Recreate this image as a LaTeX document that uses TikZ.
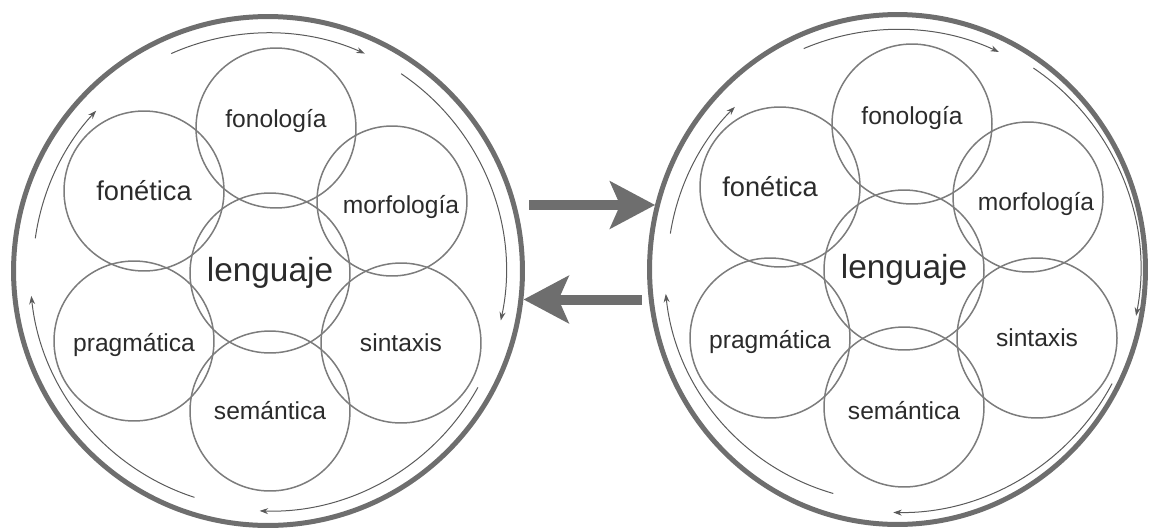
\documentclass[tikz,border=0pt]{standalone}
\usepackage{fontspec}
\setmainfont{Liberation Sans}
\usetikzlibrary{arrows.meta,shapes.geometric}
\definecolor{ringgray}{HTML}{6E6E6E}
\definecolor{petalgray}{HTML}{7C7C7C}
\definecolor{flowgray}{HTML}{5A5A5A}
\definecolor{txtgray}{HTML}{2B2B2B}
\tikzset{
	ring/.style={draw=ringgray,line width=0.1cm,inner sep=0pt},
	petal/.style={circle,draw=petalgray,line width=0.03cm,minimum size=3.2cm,inner sep=0pt},
	word/.style={text=txtgray,font=\fontsize{14}{16}\selectfont},
	bigword/.style={text=txtgray,font=\fontsize{15.5}{18}\selectfont},
	core/.style={text=txtgray,font=\fontsize{19}{22}\selectfont},
	flow/.style={draw=flowgray,line width=0.02cm,-{Stealth[length=0.17cm,width=0.12cm]}},
	bigarrow/.style={draw=ringgray,line width=0.2cm,-{Stealth[length=0.9cm,width=0.94cm,inset=0.2cm]}}
}
\begin{document}
\begin{tikzpicture}[x=0.02cm,y=0.02cm]
		\useasboundingbox (0,0) rectangle (1151,529);
		\node[ring,circle,minimum size=10.18cm] (Lring) at (268,258) {};
		\node[ring,ellipse,minimum width=9.92cm,minimum height=10.2cm] (Rring) at (897.5,259.5) {};
		\node[petal,label={[word,yshift=0.14cm]center:fonología}] (fonL) at (276,401) {};
		\node[petal,label={[bigword]center:fonética}] (fonetL) at (144,338) {};
		\node[petal,minimum size=3cm,label={[word,xshift=0.18cm,yshift=-0.12cm]center:morfología}] (morL) at (392,328) {};
		\node[petal,label={[core]center:lenguaje}] (lenL) at (270,256) {};
		\node[petal,label={[word,yshift=-0.08cm]center:pragmática}] (praL) at (134,188) {};
		\node[petal,label={[word]center:sintaxis}] (sinL) at (401,186) {};
		\node[petal,label={[word]center:semántica}] (semL) at (270,118) {};
		\node[petal,label={[word,yshift=0.12cm]center:fonología}] (fonR) at (912,405) {};
		\node[petal,label={[bigword,xshift=-0.2cm]center:fonética}] (fonetR) at (780,342) {};
		\node[petal,minimum size=3cm,label={[word,xshift=0.16cm,yshift=-0.13cm]center:morfología}] (morR) at (1028,332) {};
		\node[petal,label={[core]center:lenguaje}] (lenR) at (904,259) {};
		\node[petal,label={[word,yshift=-0.08cm]center:pragmática}] (praR) at (770,191) {};
		\node[petal,label={[word]center:sintaxis}] (sinR) at (1037,191) {};
		\node[petal,label={[word,yshift=-0.08cm]center:semántica}] (semR) at (904,122) {};
		\draw[flow] (Lring.center) ++(114:238) arc[start angle=114,end angle=66,radius=238];
		\draw[flow] (Lring.center) ++(56:238) arc[start angle=56,end angle=-12,radius=238];
		\draw[flow] (Lring.center) ++(-29:240) arc[start angle=-29,end angle=-92,radius=240];
		\draw[flow] (Lring.center) ++(252:238) arc[start angle=252,end angle=186,radius=238];
		\draw[flow] (Lring.center) ++(172:235) arc[start angle=172,end angle=137,radius=235];
		\draw[flow] (Rring.center) ++(113:240) arc[start angle=113,end angle=65,radius=240];
		\draw[flow] (Rring.center) ++(56:243) arc[start angle=56,end angle=-11,radius=243];
		\draw[flow] (Rring.center) ++(-28:243) arc[start angle=-28,end angle=-91,radius=243];
		\draw[flow] (Rring.center) ++(254:233) arc[start angle=254,end angle=186,radius=233];
		\draw[flow] (Rring.center) ++(171:230) arc[start angle=171,end angle=135,radius=230];
		\coordinate (goS) at (529,324);
		\coordinate (backS) at (642,229.5);
		\draw[bigarrow] (goS) -- (goS -| Rring.165);
		\draw[bigarrow] (backS) -- (backS -| Lring.-6);
	\end{tikzpicture}
\end{document}
